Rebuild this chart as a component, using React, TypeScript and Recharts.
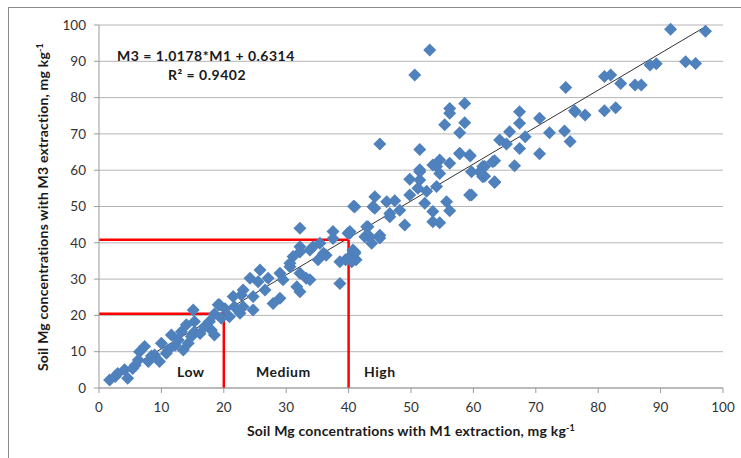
import React from 'react';
import { ScatterChart, Scatter, XAxis, YAxis, CartesianGrid, ReferenceLine } from 'recharts';

// Soil Mg with M1 extraction (mg/kg)
const m1Values = [
  1.7, 3.0, 4.6, 4.1, 5.4, 6.5, 7.3, 6.3, 7.9, 8.9, 10.0, 11.1, 9.7, 12.7, 11.6, 13.2, 14.3, 14.0, 15.3, 15.3,
  13.5, 15.1, 16.9, 17.7, 18.5, 19.6, 19.1, 20.9, 21.7, 22.8, 18.0,
  19.3, 23.1, 22.6, 24.7, 18.5, 21.5, 24.7, 29.0, 27.9, 23.1, 26.6, 24.2, 25.5, 27.1, 25.8, 29.0, 30.6, 31.1, 32.2,
  33.2, 31.7, 32.2, 38.6, 32.2, 33.8, 35.4, 36.4, 35.1, 38.6, 41.0, 39.5, 32.2, 37.5, 37.5, 39.9, 40.8,
  44.2, 43.9, 46.1, 47.4, 46.6, 49.0, 49.8, 51.1, 52.5, 53.5, 53.5, 55.7, 56.2, 59.4, 40.2, 43.1, 42.6, 45.0,
  43.7, 40.7, 41.2, 40.2, 34.3, 36.0, 32.2, 30.6, 33.8, 29.5,
  45.0, 51.4, 57.8, 54.6, 53.5, 56.2, 57.8, 59.5, 51.4, 49.8, 51.4, 54.6, 59.7, 61.5, 61.5, 63.1, 63.4, 59.7, 54.1,
  44.2, 48.2, 46.6, 52.2, 40.2, 42.9, 43.4, 45.0, 41.0, 40.5, 41.0,
  50.6, 56.2, 56.2, 58.6, 55.4, 58.6, 53.0, 51.4, 54.1, 57.8, 59.4, 66.6, 61.8, 54.6, 64.2, 65.8, 67.4, 67.4, 67.4,
  70.6, 70.6, 72.2, 74.6, 75.5, 76.3, 77.9,
  91.6, 97.2, 94.0, 95.6, 88.3, 89.3, 81.0, 82.0, 83.6, 85.9, 86.9, 74.8, 76.2, 81.0, 82.8, 65.3, 68.3, 63.4, 61.8,
  61.0, 63.4,
  2.6, 5.8, 8.4, 12.2, 14.8, 16.2, 10.8, 20.2,
];

// Soil Mg with M3 extraction (mg/kg)
const m3Values = [
  2.2, 4.0, 2.7, 5.0, 5.4, 10.0, 11.4, 7.7, 7.3, 9.1, 12.3, 10.5, 7.3, 13.2, 14.6, 15.5, 12.3, 17.4, 15.5, 18.3,
  10.5, 21.5, 16.9, 18.3, 14.6, 19.2, 22.9, 19.6, 22.4, 25.6, 16.0,
  22.9, 22.4, 20.6, 21.5, 20.4, 25.2, 25.2, 24.7, 23.3, 27.0, 27.0, 30.2, 29.3, 30.2, 32.5, 31.6, 33.4, 36.2, 31.6,
  30.2, 27.9, 26.5, 28.8, 38.9, 38.0, 39.9, 36.6, 35.3, 34.8, 37.1, 35.3, 44.0, 43.1, 41.2, 42.6, 50.1,
  52.7, 49.9, 51.3, 51.6, 48.1, 44.9, 53.2, 55.0, 54.2, 48.6, 45.8, 51.3, 48.8, 53.2, 42.6, 44.4, 41.7, 42.1,
  39.9, 38.0, 35.3, 36.2, 38.9, 37.1, 37.5, 34.4, 29.8, 29.8,
  67.2, 65.7, 70.3, 62.8, 61.4, 61.9, 64.5, 63.9, 59.6, 57.5, 57.3, 59.1, 59.6, 61.0, 58.2, 62.3, 56.8, 53.2, 55.5,
  49.5, 49.0, 47.2, 50.9, 43.1, 44.4, 41.7, 41.3, 37.5, 34.8, 49.9,
  86.2, 77.0, 75.7, 78.4, 72.5, 73.1, 93.1, 60.1, 61.0, 64.7, 64.2, 61.2, 58.3, 45.5, 68.3, 70.6, 76.1, 72.9, 66.0,
  74.3, 64.5, 70.3, 70.8, 67.9, 76.1, 75.2,
  98.8, 98.3, 89.9, 89.4, 89.0, 89.3, 85.8, 86.2, 83.9, 83.5, 83.5, 82.8, 76.4, 76.4, 77.2, 67.2, 69.2, 62.6, 61.0,
  59.5, 56.6,
  3.2, 6.3, 8.8, 11.8, 14.2, 15.0, 9.6, 21.8,
];

const xTicks = [0, 10, 20, 30, 40, 50, 60, 70, 80, 90, 100];
const yTicks = [0, 10, 20, 30, 40, 50, 60, 70, 80, 90, 100];

const slope = 1.0178;
const intercept = 0.6314;
const rSquared = 0.9402;
const thresholds = [20, 40];
const classNames = ['Low', 'Medium', 'High'];

const points = m1Values.map((x, i) => ({ x, y: m3Values[i] }));
const minX = Math.min(...m1Values);
const maxX = Math.max(...m1Values);
const fit = (x: number) => slope * x + intercept;

const FONT = 'Lato, "Open Sans", sans-serif';
const BLUE = '#4F81BD';

const Diamond = (props: any) => {
  const { cx, cy } = props;
  if (cx == null || cy == null) return null;
  const r = 6.5;
  return (
    <polygon
      points={`${cx},${cy - r} ${cx + r},${cy} ${cx},${cy + r} ${cx - r},${cy}`}
      fill={BLUE}
    />
  );
};

export default function App() {
  const tickStyle = { fontFamily: FONT, fontSize: 13.5, fill: '#333' };
  const titleProps = {
    fontFamily: FONT,
    fontWeight: 'bold' as const,
    fontSize: 14,
    fill: '#1a1a1a',
  };
  return (
    <div style={{ position: 'absolute', left: 0, top: 0, width: 741, height: 458, background: '#fff', overflow: 'hidden' }}>
      <div
        style={{
          position: 'absolute',
          left: 8,
          top: 7,
          width: 760,
          height: 470,
          borderLeft: '1px solid #8c8c8c',
          borderTop: '1px solid #8c8c8c',
        }}
      />
      <div style={{ position: 'absolute', left: 0, top: 0 }}>
        <ScatterChart width={741} height={458} margin={{ top: 25, right: 18, bottom: 0, left: 0 }}>
          <CartesianGrid vertical={false} stroke="#b5b5b5" strokeWidth={1} />
          <XAxis
            type="number"
            dataKey="x"
            domain={[0, 100]}
            ticks={xTicks}
            interval={0}
            height={70}
            tickSize={5}
            tickMargin={9}
            axisLine={{ stroke: '#9a9a9a' }}
            tickLine={{ stroke: '#9a9a9a' }}
            tick={tickStyle}
          />
          <YAxis
            type="number"
            dataKey="y"
            domain={[0, 100]}
            ticks={yTicks}
            interval={0}
            width={99}
            tickSize={5}
            tickMargin={8}
            axisLine={{ stroke: '#9a9a9a' }}
            tickLine={{ stroke: '#9a9a9a' }}
            tick={tickStyle}
          />
          <Scatter data={points} shape={<Diamond />} isAnimationActive={false} />
          <ReferenceLine
            segment={[{ x: minX, y: fit(minX) }, { x: maxX, y: fit(maxX) }]}
            stroke="#333"
            strokeWidth={1}
          />
          {thresholds.map((t) => (
            <ReferenceLine
              key={'h' + t}
              segment={[{ x: 0, y: fit(t) - 0.5 }, { x: t, y: fit(t) - 0.5 }]}
              stroke="#ff0000"
              strokeWidth={2.5}
            />
          ))}
          {thresholds.map((t) => (
            <ReferenceLine
              key={'v' + t}
              segment={[{ x: t, y: 0 }, { x: t, y: fit(t) - 0.5 }]}
              stroke="#ff0000"
              strokeWidth={2.5}
            />
          ))}
        </ScatterChart>
      </div>
      <svg
        width={741}
        height={458}
        style={{ position: 'absolute', left: 0, top: 0, pointerEvents: 'none' }}
      >
        <text x={411} y={436} textAnchor="middle" letterSpacing={0.2} {...titleProps}>
          Soil Mg concentrations with M1 extraction, mg kg
          <tspan dy={-5} fontSize={9}>-1</tspan>
        </text>
        <text
          x={48}
          y={207}
          transform="rotate(-90, 48, 207)"
          textAnchor="middle"
          letterSpacing={0.2}
          {...titleProps}
        >
          Soil Mg concentrations with M3 extraction, mg kg
          <tspan dy={-5} fontSize={9}>-1</tspan>
        </text>
        <text x={117} y={61} letterSpacing={0.5} {...titleProps}>
          {`M3 = ${slope}*M1 + ${intercept}`}
        </text>
        <text x={168} y={80} letterSpacing={0.5} {...titleProps}>
          {`R² = ${rSquared}`}
        </text>
        <text x={177} y={377} letterSpacing={0.5} {...titleProps}>{classNames[0]}</text>
        <text x={256} y={377} letterSpacing={0.5} {...titleProps}>{classNames[1]}</text>
        <text x={364} y={377} letterSpacing={0.5} {...titleProps}>{classNames[2]}</text>
      </svg>
    </div>
  );
}
